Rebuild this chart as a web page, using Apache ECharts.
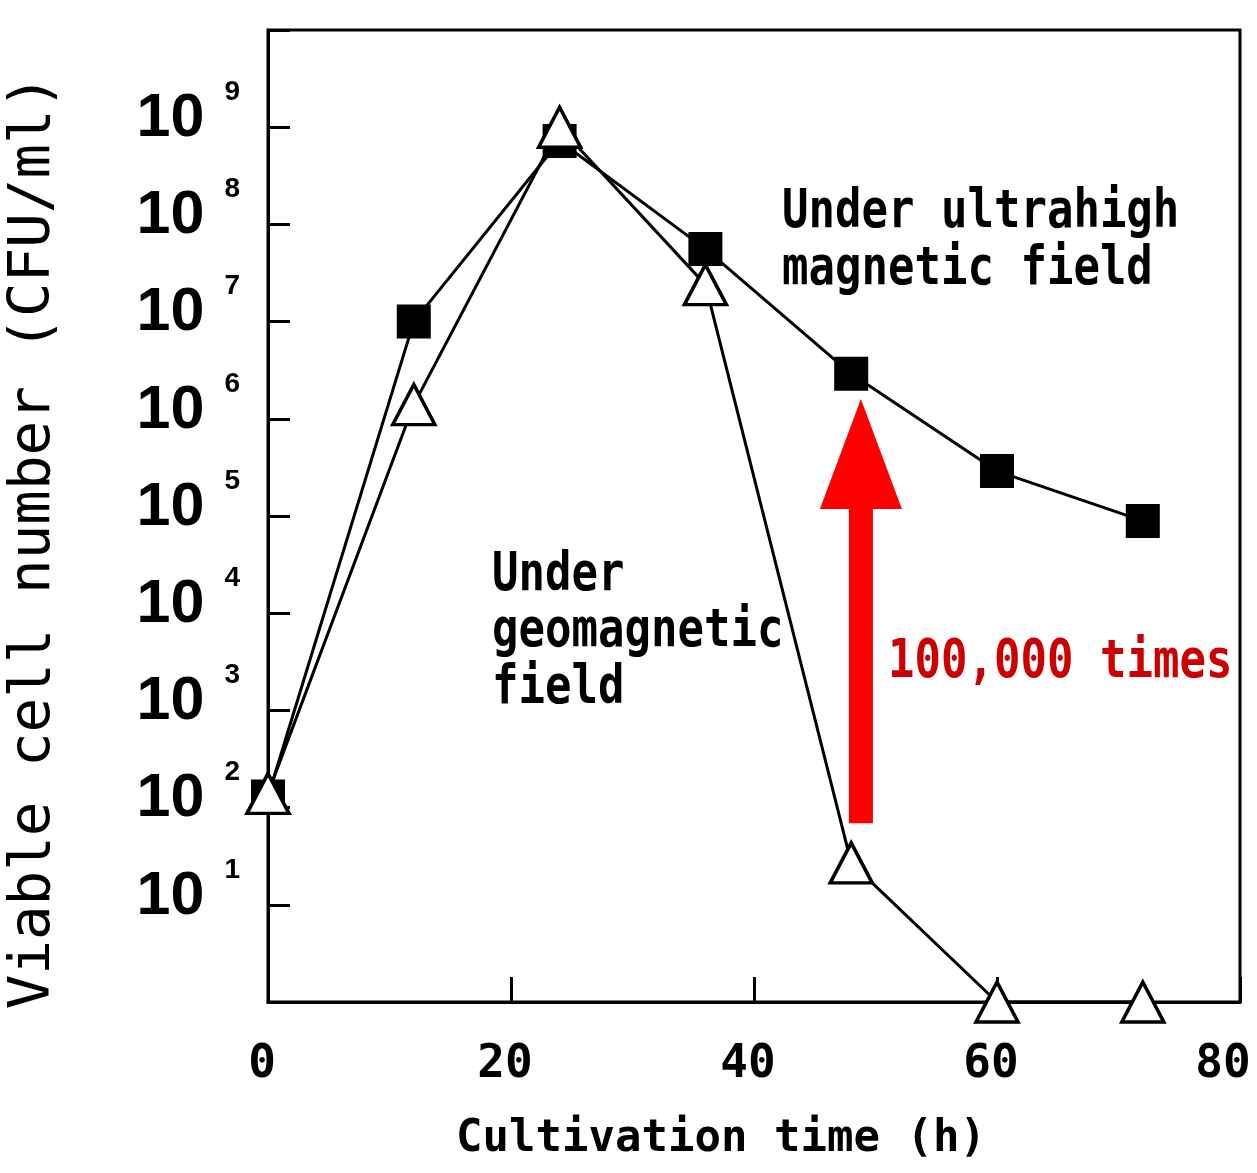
<!DOCTYPE html>
<html><head><meta charset="utf-8">
<style>html,body{margin:0;padding:0;background:#fff}#c{width:1257px;height:1173px}</style>
<script src="https://cdn.jsdelivr.net/npm/echarts@6/dist/echarts.min.js"></script>
</head><body><div id="c"></div>
<script>
// ---- data ----
const timeH = [0, 12, 24, 36, 48, 60, 72];
const ultrahigh = [130, 1.0e7, 7.2e8, 5.6e7, 2.9e6, 2.9e5, 8.9e4];
const geomagnetic = [140, 1.4e6, 1.0e9, 2.4e7, 27, 1, 1];
const xTickLabels = ['0', '20', '40', '60', '80'];
const yTickExponents = [1, 2, 3, 4, 5, 6, 7, 8, 9];
const arrowTime = 48.8;
const arrowFrom = 69;      // tail, cells/ml
const arrowTo = 1.6e6;     // tip, cells/ml
const labelUltra = 'Under ultrahigh\nmagnetic field';
const labelGeo = 'Under\ngeomagnetic\nfield';
const labelFold = '100,000 times';

const MONO = '"DejaVu Sans Mono", "Liberation Mono", monospace';
const SANS = '"Liberation Sans", Arial, sans-serif';

const chart = echarts.init(document.getElementById('c'), null, {renderer: 'canvas'});

function pairs(ys) { return timeH.map((t, i) => [t, ys[i]]); }

const option = {
  backgroundColor: '#fff',
  animation: false,
  grid: {left: 268, right: 17, top: 30, bottom: 171, show: true, borderColor: '#000', borderWidth: 3,
         containLabel: false, outerBoundsMode: 'none'},
  xAxis: {
    type: 'value', min: 0, max: 80, interval: 20,
    axisLine: {show: true, lineStyle: {color: '#000', width: 3}},
    axisTick: {show: true, inside: true, length: 25, lineStyle: {color: '#000', width: 3}},
    splitLine: {show: false},
    axisLabel: {
      margin: 40, color: '#000', fontFamily: MONO, fontWeight: 'bold', fontSize: 46,
      formatter: v => {
        const i = Math.round(v / 20);
        return (i === xTickLabels.length - 1 ? '{r|' : '{n|') + xTickLabels[i] + '}';
      },
      rich: {
        n: {fontFamily: MONO, fontWeight: 'bold', fontSize: 46, color: '#000', padding: [0, 12, 0, 0]},
        r: {fontFamily: MONO, fontWeight: 'bold', fontSize: 46, color: '#000', padding: [0, 34, 0, 0]}
      }
    },
    name: 'Cultivation time (h)', nameLocation: 'middle', nameGap: 116,
    nameTextStyle: {color: '#000', fontFamily: MONO, fontWeight: 'bold', fontSize: 44, padding: [0, 66, 0, 0]}
  },
  yAxis: {
    type: 'log', logBase: 10, min: 1, max: 1e10, interval: 1,
    axisLine: {show: true, lineStyle: {color: '#000', width: 3}},
    axisTick: {show: true, inside: true, length: 22, lineStyle: {color: '#000', width: 3}},
    splitLine: {show: false},
    minorTick: {show: false},
    axisLabel: {
      show: true, margin: 28, showMinLabel: true, showMaxLabel: true,
      formatter: v => {
        const e = Math.round(Math.log10(v));
        if (yTickExponents.indexOf(e) < 0) return '';
        return '{a|10}{b|' + e + '}';
      },
      rich: {
        a: {fontFamily: SANS, fontWeight: 'bold', fontSize: 61, color: '#000', padding: [0, 0, 16, 0]},
        b: {fontFamily: SANS, fontWeight: 'bold', fontSize: 28, color: '#000', padding: [0, 0, 70, 20]}
      }
    },
    name: 'Viable cell number (CFU/ml)', nameLocation: 'middle', nameRotate: 90, nameGap: 205,
    nameTextStyle: {color: '#000', fontFamily: MONO, fontSize: 57.5, padding: [0, 52, 0, 0]}
  },
  series: [
    {
      name: 'Under ultrahigh magnetic field', type: 'line', data: pairs(ultrahigh),
      symbol: 'rect', symbolSize: 34,
      lineStyle: {color: '#000', width: 3},
      itemStyle: {color: '#000', borderColor: '#000', borderWidth: 0},
      z: 2, clip: false
    },
    {
      name: 'Under geomagnetic field', type: 'line', data: pairs(geomagnetic),
      symbol: 'triangle', symbolSize: [42, 40],
      lineStyle: {color: '#000', width: 3},
      itemStyle: {color: '#fff', borderColor: '#000', borderWidth: 3.5},
      z: 3, clip: false
    }
  ]
};
chart.setOption(option);

const tail = chart.convertToPixel({gridIndex: 0}, [arrowTime, arrowFrom]);
const tip = chart.convertToPixel({gridIndex: 0}, [arrowTime, arrowTo]);
const ax = tail[0], hw = 12, headW = 41, headH = 110;
const baseY = tip[1] + headH;

chart.setOption({
  graphic: [
    {
      type: 'polygon', z: 5,
      shape: {points: [[ax - hw, tail[1]], [ax - hw, baseY], [ax - headW, baseY], [ax, tip[1]],
                        [ax + headW, baseY], [ax + hw, baseY], [ax + hw, tail[1]]]},
      style: {fill: '#ff0000'}
    },
    {
      type: 'text', x: 782, y: 184, scaleY: 1.2, z: 6,
      style: {text: labelUltra, font: 'bold 44px ' + MONO, fill: '#000', lineHeight: 48, textVerticalAlign: 'top'}
    },
    {
      type: 'text', x: 492, y: 548, scaleY: 1.2, z: 6,
      style: {text: labelGeo, font: 'bold 44px ' + MONO, fill: '#000', lineHeight: 47, textVerticalAlign: 'top'}
    },
    {
      type: 'text', x: 888, y: 634, scaleY: 1.2, z: 6,
      style: {text: labelFold, font: 'bold 44px ' + MONO, fill: '#cc0000', lineHeight: 48, textVerticalAlign: 'top'}
    }
  ]
});
</script>
</body></html>
